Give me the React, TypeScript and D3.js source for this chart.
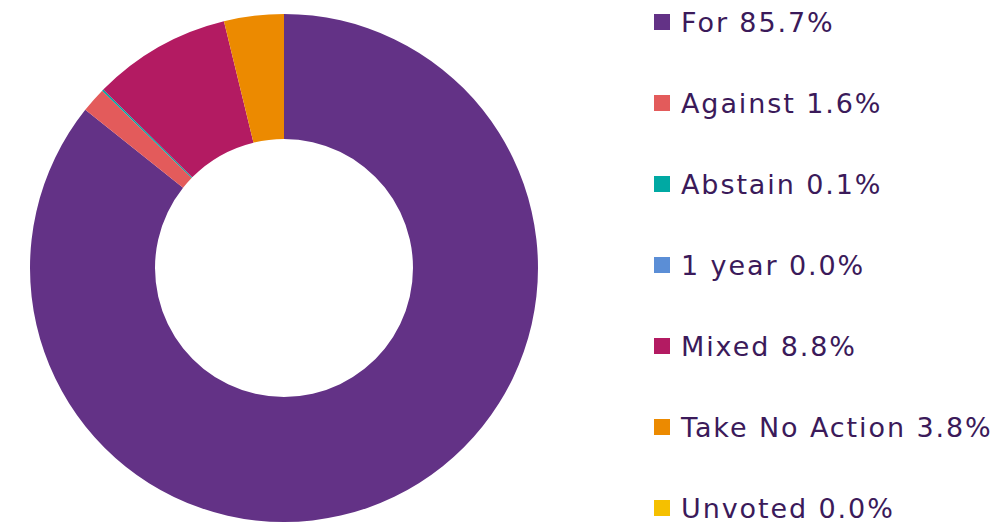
import { useEffect, useRef } from "react";
import * as d3 from "d3";

const categories = ["For", "Against", "Abstain", "1 year", "Mixed", "Take No Action", "Unvoted"];
const values = [85.7, 1.6, 0.1, 0.0, 8.8, 3.8, 0.0];
const colors = ["#633286", "#E35B5B", "#00A9A3", "#5B8ED6", "#B31B62", "#EC8A00", "#F5C000"];

const WIDTH = 999;
const HEIGHT = 529;
const center = { x: 284, y: 268 };
const outerR = 254;
const innerR = 129;
const legend = { x: 654, y: 14, step: 81, box: 16 };
const TEXT_COLOR = "#3B1A5A";

export default function App() {
  const svgRef = useRef<SVGSVGElement>(null);

  useEffect(() => {
    document.body.style.margin = "0";
    if (!svgRef.current) return;
    const svg = d3.select(svgRef.current);
    svg.selectAll("*").remove();

    const data = categories.map((c, i) => ({ name: c, value: values[i], color: colors[i] }));

    const pie = d3.pie<{ name: string; value: number; color: string }>()
      .sort(null)
      .value((d) => d.value);

    const arc = d3.arc<d3.PieArcDatum<{ name: string; value: number; color: string }>>()
      .innerRadius(innerR)
      .outerRadius(outerR);

    const g = svg.append("g").attr("transform", `translate(${center.x},${center.y})`);
    g.selectAll("path")
      .data(pie(data))
      .join("path")
      .attr("d", arc)
      .attr("fill", (d) => d.data.color);

    // Legend
    const lg = svg.append("g").attr("class", "legend");
    data.forEach((d, i) => {
      const y = legend.y + i * legend.step;
      lg.append("rect")
        .attr("x", legend.x)
        .attr("y", y)
        .attr("width", legend.box)
        .attr("height", legend.box)
        .attr("fill", d.color);
      lg.append("text")
        .attr("x", legend.x + 27)
        .attr("y", y + 18)
        .attr("font-family", "'Century Gothic', 'DejaVu Sans', sans-serif")
        .attr("font-size", 27)
        .attr("letter-spacing", 1.9)
        .attr("fill", TEXT_COLOR)
        .text(`${d.name} ${d.value.toFixed(1)}%`);
    });
  }, []);

  return (
    <svg
      ref={svgRef}
      width={WIDTH}
      height={HEIGHT}
      style={{ display: "block", background: "#fff" }}
    />
  );
}
